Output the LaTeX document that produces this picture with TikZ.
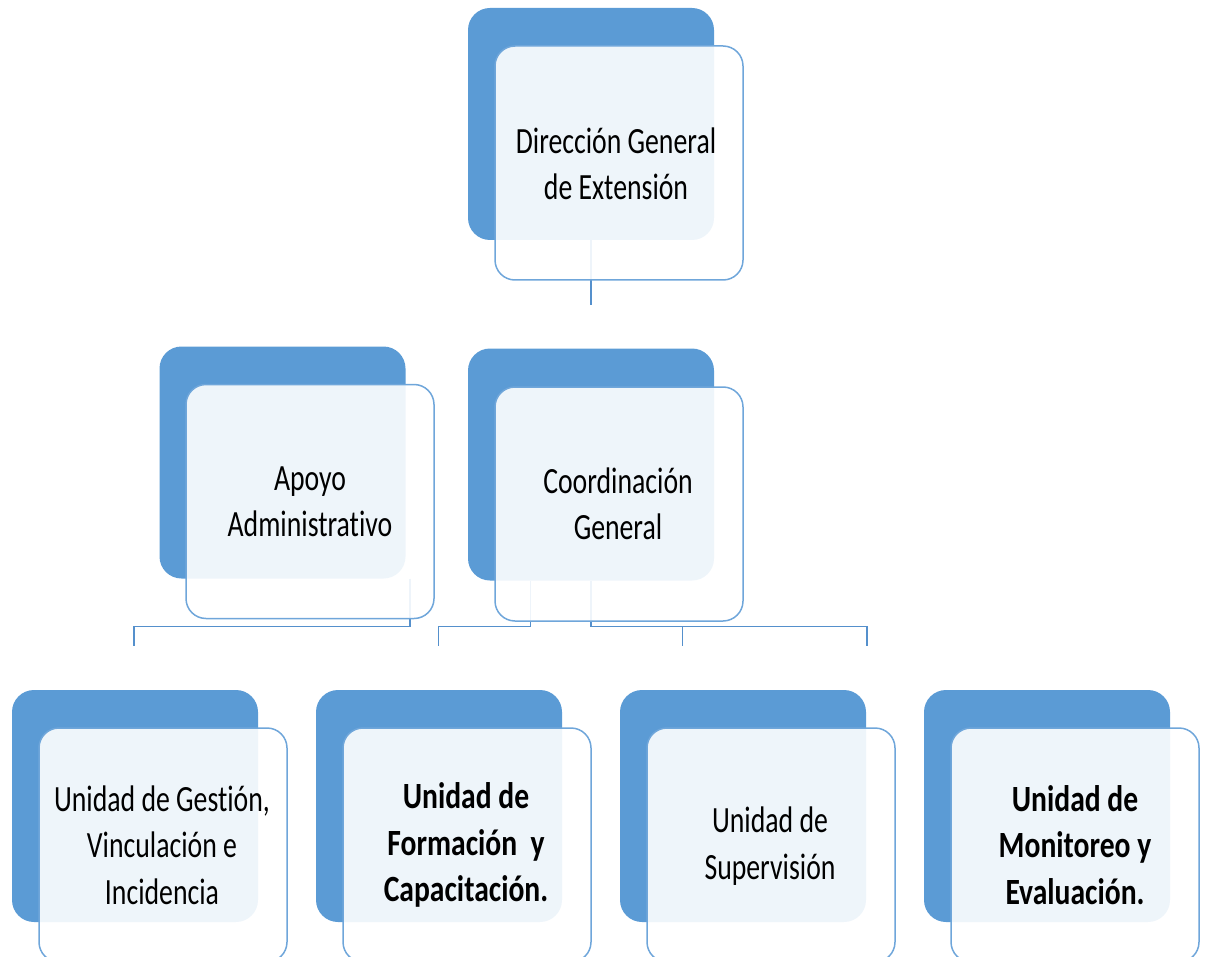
\documentclass[tikz,border=0pt]{standalone}
\usepackage{fontspec}
\setmainfont{Carlito}[FakeStretch=0.75, Ligatures=NoCommon]
\newfontfamily\widebold{Carlito}[FakeStretch=0.80, Ligatures=NoCommon]
\definecolor{accent}{HTML}{5B9BD5}
\definecolor{edge}{HTML}{6FA6DA}
\definecolor{linec}{HTML}{5590CC}
\tikzset{
  backbox/.style={draw=none, fill=accent, rounded corners=22pt, minimum width=246pt, minimum height=232pt, inner sep=0pt},
  frontbox/.style={draw=edge, line width=1.5pt, fill=white, fill opacity=0.9, text opacity=1, rounded corners=20pt, minimum width=248pt, minimum height=234pt, inner sep=0pt},
  lbl/.style={align=center, font=\fontsize{37}{46.5}\selectfont, text=black},
  blbl/.style={lbl, font=\fontsize{37}{46.5}\selectfont\widebold\bfseries},
  conn/.style={draw=linec, line width=1.6pt},
}
\begin{document}
\begin{tikzpicture}[x=1pt,y=-1pt]
\useasboundingbox (0,0) rectangle (1206,957);
% back boxes
\node[backbox] (dgB) at (591,124) {};
\node[backbox] (apB) at (282.5,462.5) {};
\node[backbox] (cgB) at (591,464.5) {};
\node[backbox] (u1B) at (135,806) {};
\node[backbox] (u2B) at (439,806) {};
\node[backbox] (u3B) at (743,806) {};
\node[backbox] (u4B) at (1047,806) {};
% connector end coordinates
\coordinate (dgEnd) at (591,305);
\coordinate (apTop) at (410,578.5);
\coordinate (apEnd) at (134,646);
\coordinate (cgL) at (530.5,580.5);
\coordinate (cgLEnd) at (438.5,646);
\coordinate (cgR) at (591,580.5);
\coordinate (cgREnd) at (867,646);
\coordinate (cgMid) at (682.5,626.5);
\coordinate (cgMidEnd) at (682.5,646);
% connectors
\draw[conn] (dgB.south) -- (dgEnd);
\draw[conn] (apTop) -- (410,626.5) -| (apEnd);
\draw[conn] (cgL) -- (530.5,626.5) -| (cgLEnd);
\draw[conn] (cgR) -- (591,626.5) -| (cgREnd);
\draw[conn] (cgMid) -- (cgMidEnd);
% front boxes
\node[frontbox] (dgF) at (619,163) {};
\node[frontbox] (apF) at (310,501.5) {};
\node[frontbox] (cgF) at (619,504) {};
\node[frontbox] (u1F) at (163,845) {};
\node[frontbox] (u2F) at (467,845) {};
\node[frontbox] (u3F) at (771,845) {};
\node[frontbox] (u4F) at (1075,845) {};
% labels
\node[lbl] (dgT) at (616,164) {Dirección General\\de Extensión};
\node[lbl] (apT) at (310,502) {Apoyo\\Administrativo};
\node[lbl] (cgT) at (618,504) {Coordinación\\General};
\node[lbl] (u1T) at (162,845) {Unidad de Gestión,\\Vinculación e\\Incidencia};
\node[blbl] (u2T) at (466,845) {Unidad de\\Formación\ \ y\\Capacitación.};
\node[lbl] (u3T) at (770,846) {Unidad de\\Supervisión};
\node[blbl] (u4T) at (1075,845) {Unidad de\\Monitoreo y\\Evaluación.};
\end{tikzpicture}
\end{document}
